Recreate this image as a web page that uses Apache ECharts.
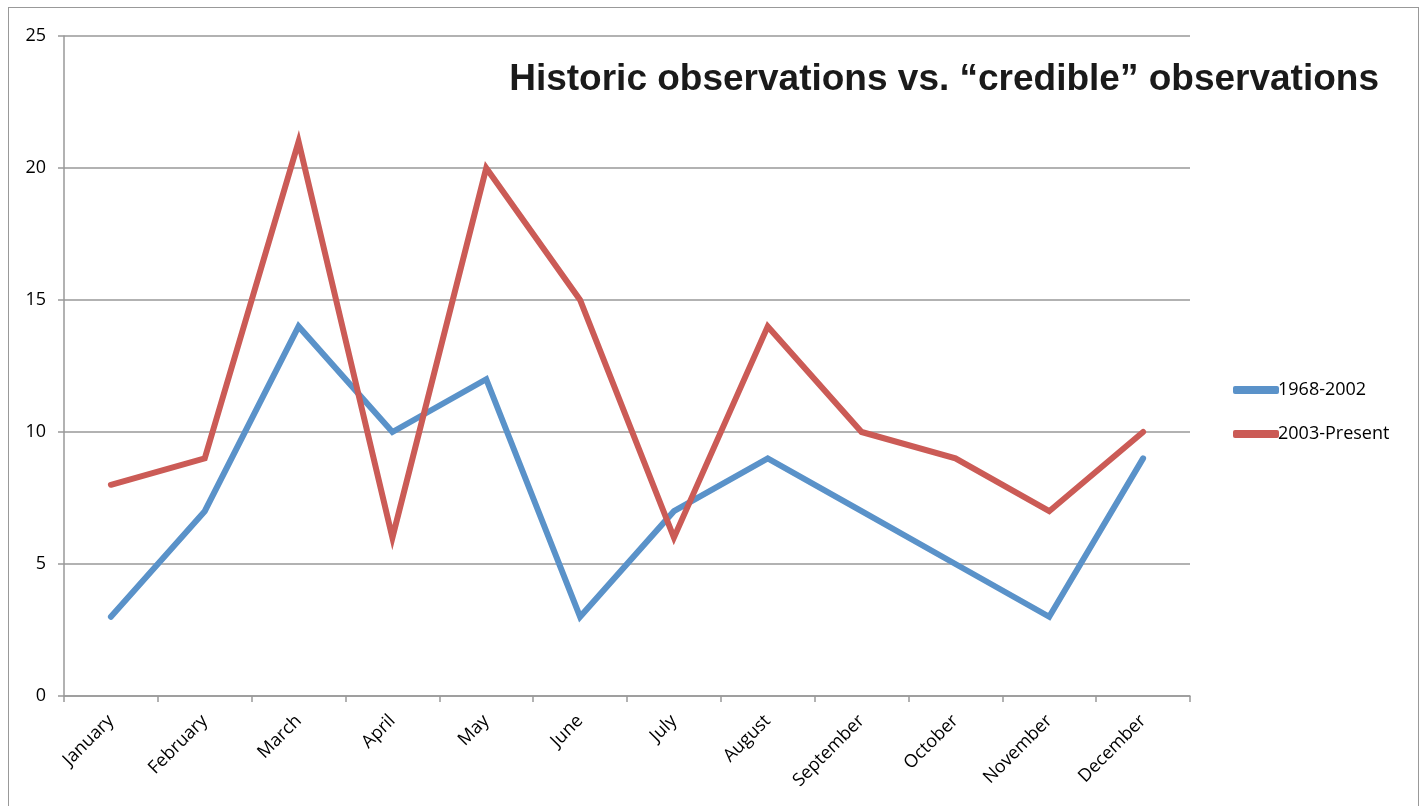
<!DOCTYPE html>
<html><head><meta charset="utf-8">
<script src="https://cdn.jsdelivr.net/npm/echarts@6/dist/echarts.min.js"></script>
<style>html,body{margin:0;padding:0;background:#fff}#c{width:1424px;height:806px}
#frame{position:absolute;left:8px;top:7px;width:1411px;height:810px;border:1.5px solid #999;box-sizing:border-box;pointer-events:none}</style>
</head><body><div id="c"></div><div id="frame"></div>
<script>
const months = ['January','February','March','April','May','June','July','August','September','October','November','December'];
const historic = [3, 7, 14, 10, 12, 3, 7, 9, 7, 5, 3, 9];
const credible = [8, 9, 21, 6, 20, 15, 6, 14, 10, 9, 7, 10];
const yTicks = [0, 5, 10, 15, 20, 25];
const seriesNames = ['1968-2002', '2003-Present'];

const chart = echarts.init(document.getElementById('c'));
chart.setOption({
  animation: false,
  title: {
    text: 'Historic observations vs. \u201ccredible\u201d observations',
    right: 40, top: 56,
    textStyle: {fontFamily: 'Liberation Sans, Arial', fontWeight: 'bold', fontSize: 37, color: '#1a1a1a'}
  },
  legend: {
    orient: 'vertical', left: 1228, top: 376, itemGap: 26,
    itemWidth: 46, itemHeight: 8,
    icon: 'roundRect',
    textStyle: {fontFamily: 'Open Sans, Liberation Sans', fontSize: 18, color: '#000', padding: [0,0,0,-6]},
    data: seriesNames
  },
  grid: {left: 64, top: 36, width: 1126, height: 660, containLabel: false},
  xAxis: {
    type: 'category', data: months, boundaryGap: true,
    axisLine: {lineStyle: {color: '#999', width: 1.5}},
    axisTick: {show: true, length: 6, lineStyle: {color: '#999', width: 1.5}},
    axisLabel: {rotate: 45, fontFamily: 'Open Sans, Liberation Sans', fontSize: 18, color: '#000', margin: 22}
  },
  yAxis: {
    type: 'value', min: yTicks[0], max: yTicks[yTicks.length-1], interval: 5,
    axisLine: {show: true, lineStyle: {color: '#999', width: 1.5}},
    axisTick: {show: true, length: 6, lineStyle: {color: '#999', width: 1.5}},
    splitLine: {lineStyle: {color: '#999', width: 1.5}},
    axisLabel: {fontFamily: 'Open Sans, Liberation Sans', fontSize: 18, color: '#000', margin: 18}
  },
  series: [
    {name: seriesNames[0], type: 'line', data: historic, symbol: 'none',
     itemStyle: {color: '#5A92C9'}, lineStyle: {color: '#5A92C9', width: 6, cap: 'round', join: 'miter'}},
    {name: seriesNames[1], type: 'line', data: credible, symbol: 'none',
     itemStyle: {color: '#CB5B56'}, lineStyle: {color: '#CB5B56', width: 6, cap: 'round', join: 'miter'}}
  ]
});
</script></body></html>
